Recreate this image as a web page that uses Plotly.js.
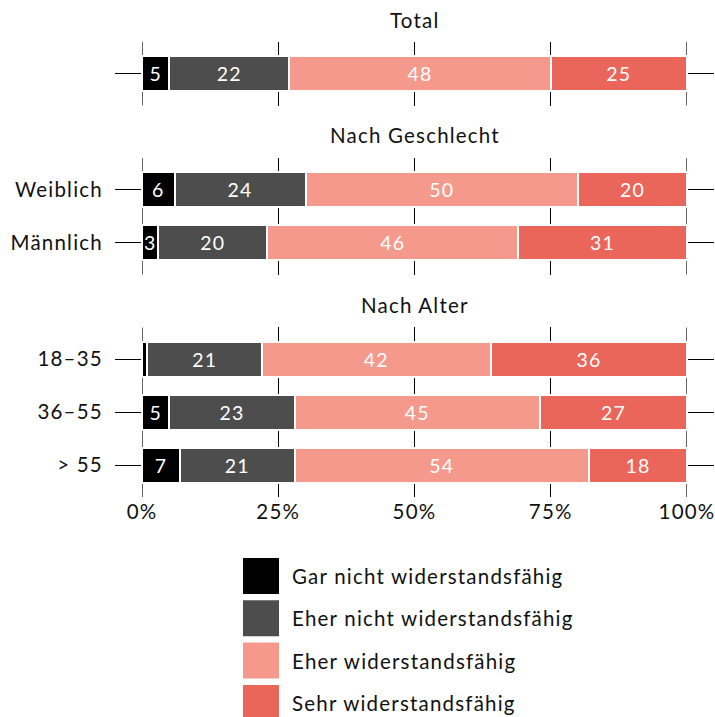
<!DOCTYPE html>
<html>
<head>
<meta charset="utf-8">
<script src="https://cdn.plot.ly/plotly-3.0.1.min.js"></script>
<style>
html,body{margin:0;padding:0;background:#fff;}
#chart{width:715px;height:717px;}
svg text{letter-spacing:1.2px;}
</style>
</head>
<body>
<div id="chart"></div>
<script>
// ---- Data ----
const seriesNames = ['Gar nicht widerstandsfähig', 'Eher nicht widerstandsfähig', 'Eher widerstandsfähig', 'Sehr widerstandsfähig'];
const seriesColors = ['#000000', '#4d4d4d', '#f4998b', '#eb665a'];

const panelTitles = ['Total', 'Nach Geschlecht', 'Nach Alter'];

const totalCategories = ['Total'];
const genderCategories = ['Weiblich', 'Männlich'];
const ageCategories = ['18–35', '36–55', '> 55'];

// values per row, in series order
const totalValues = [5, 22, 48, 25];
const weiblichValues = [6, 24, 50, 20];
const maennlichValues = [3, 20, 46, 31];
const age1835Values = [1, 21, 42, 36];
const age3655Values = [5, 23, 45, 27];
const age55Values = [7, 21, 54, 18];

const xTickVals = [0, 25, 50, 75, 100];

// ---- Layout geometry (pixels) ----
const W = 715, H = 717;
const L = 142, R = 687, T = 42, B = 497;
const fx = px => (px - L) / (R - L);
const fy = py => (B - py) / (B - T);

const FONT = 'Lato, "Open Sans", sans-serif';
const FS = 20.5;

const panels = [
  {cats: totalCategories, rows: [totalValues], top: 42, bottom: 105.6, titleY: 20, showLabels: false},
  {cats: genderCategories, rows: [weiblichValues, maennlichValues], top: 158, bottom: 274.6, titleY: 135, showLabels: true},
  {cats: ageCategories, rows: [age1835Values, age3655Values, age55Values], top: 327.4, bottom: 497, titleY: 305, showLabels: true}
];

const traces = [];
const layout = {
  width: W, height: H,
  margin: {l: L, r: W - R, t: T, b: H - B},
  paper_bgcolor: '#fff', plot_bgcolor: '#fff',
  barmode: 'stack',
  showlegend: false,
  font: {family: FONT, size: FS, color: '#111'},
  annotations: [],
  shapes: []
};

panels.forEach((p, pi) => {
  const sfx = pi === 0 ? '' : String(pi + 1);
  seriesNames.forEach((name, si) => {
    const vals = p.rows.map(r => r[si]);
    traces.push({
      type: 'bar',
      orientation: 'h',
      name: name,
      y: p.cats,
      x: vals,
      xaxis: 'x' + sfx,
      yaxis: 'y' + sfx,
      width: 0.66,
      marker: {color: seriesColors[si], line: {color: '#ffffff', width: 2}},
      text: vals.map(v => v >= 3 ? String(v) : ''),
      textposition: 'inside',
      insidetextanchor: 'middle',
      constraintext: 'none',
      textfont: {color: '#ffffff', size: 19.5, family: FONT},
      hoverinfo: 'none',
      showlegend: false
    });
  });
  const n = p.cats.length;
  layout['xaxis' + sfx] = {
    domain: [0, 1],
    anchor: 'y' + sfx,
    range: [0, 100],
    tickvals: xTickVals,
    ticktext: xTickVals.map(v => v + '%'),
    showticklabels: pi === 2,
    ticklabeloverflow: 'allow',
    showgrid: true,
    gridcolor: '#000000',
    gridwidth: 1.2,
    zeroline: false,
    showline: false,
    ticks: '',
    tickfont: {size: FS, family: FONT, color: '#111'},
    fixedrange: true
  };
  layout['yaxis' + sfx] = {
    domain: [fy(p.bottom), fy(p.top)],
    anchor: 'x' + sfx,
    type: 'category',
    categoryorder: 'array',
    categoryarray: p.cats,
    range: [n - 0.4, -0.6],
    showgrid: false,
    zeroline: false,
    showline: false,
    ticks: 'outside',
    ticklen: 26,
    tickwidth: 1.2,
    tickcolor: '#000000',
    mirror: 'ticks',
    showticklabels: p.showLabels,
    ticklabelstandoff: 8,
    tickfont: {size: FS, family: FONT, color: '#111'},
    fixedrange: true
  };
  // grid lines at the range ends (Plotly clips those)
  [xTickVals[0], xTickVals[xTickVals.length - 1]].forEach(v => {
    layout.shapes.push({
      type: 'line', layer: 'below',
      xref: 'x' + sfx, yref: 'y' + sfx + ' domain',
      x0: v, x1: v, y0: 0, y1: 1,
      line: {color: '#000000', width: 1.2}
    });
  });
  layout.annotations.push({
    text: panelTitles[pi],
    xref: 'paper', yref: 'paper',
    x: 0.5, y: fy(p.titleY),
    xanchor: 'center', yanchor: 'middle',
    showarrow: false,
    font: {size: FS, family: FONT, color: '#111'}
  });
});

// ---- Legend (drawn manually to get large swatches) ----
seriesNames.forEach((name, si) => {
  const cy = 576 + si * 42.3;
  layout.shapes.push({
    type: 'rect', xref: 'paper', yref: 'paper',
    x0: fx(243), x1: fx(279), y0: fy(cy + 18), y1: fy(cy - 18),
    fillcolor: seriesColors[si], line: {width: 0}
  });
  layout.annotations.push({
    text: name,
    xref: 'paper', yref: 'paper',
    x: fx(290), y: fy(cy),
    xanchor: 'left', yanchor: 'middle',
    showarrow: false,
    font: {size: FS, family: FONT, color: '#111'}
  });
});

Plotly.newPlot('chart', traces, layout, {displayModeBar: false, staticPlot: true});
</script>
</body>
</html>
